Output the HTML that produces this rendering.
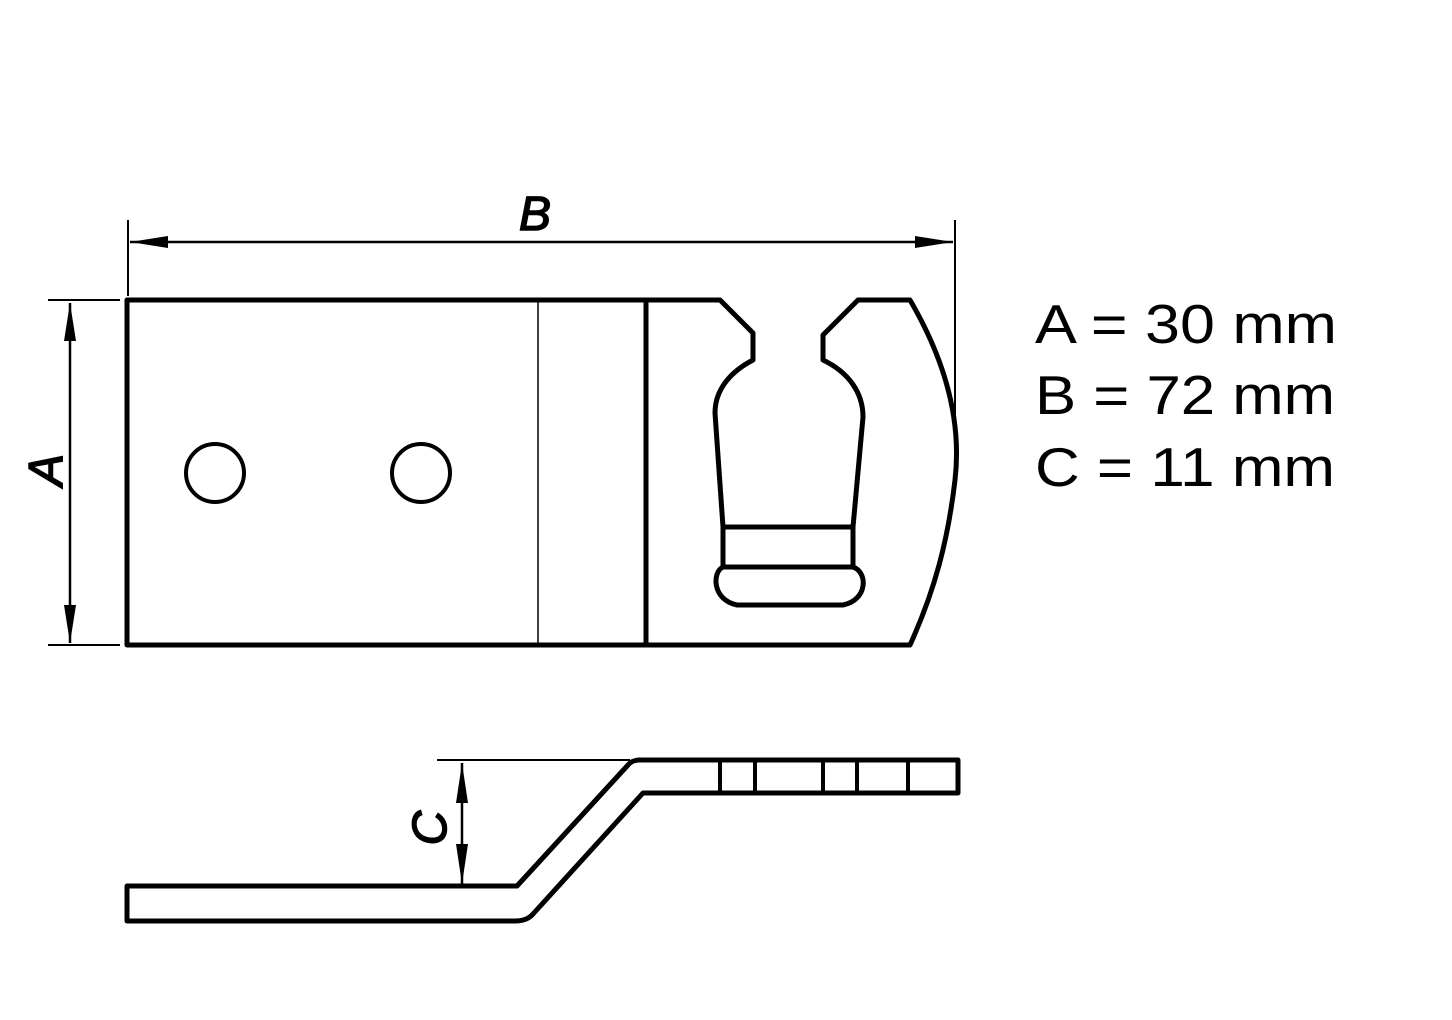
<!DOCTYPE html>
<html><head><style>body{margin:0;background:#fff}svg{display:block}</style></head>
<body>
<svg width="1452" height="1020" viewBox="0 0 1452 1020" xmlns="http://www.w3.org/2000/svg">
<g fill="none" stroke="#000" stroke-linejoin="round">
<path stroke-width="5" d="M127,300 L720,300 L753,333 L753,360 C730,372 715,390 715,413 L723,527 L723,567 C712,572 712,600 737,605 L843,605 C868,600 868,572 853,567 L853,527 L863,417 C863,392 848,372 823,360 L823,335 L858,300 L910,300 C945,360 962,420 955,480 C948,540 935,590 910,645 L127,645 Z"/>
<line x1="723" y1="527" x2="853" y2="527" stroke-width="5"/>
<line x1="723" y1="567" x2="853" y2="567" stroke-width="5"/>
<line x1="646" y1="300" x2="646" y2="645" stroke-width="5"/>
<line x1="538" y1="300" x2="538" y2="645" stroke-width="1.5"/>
<circle cx="215" cy="473" r="29" stroke-width="4"/>
<circle cx="421" cy="473" r="29" stroke-width="4"/>
<line x1="128" y1="220" x2="128" y2="296" stroke-width="2"/>
<line x1="955" y1="220" x2="955" y2="420" stroke-width="2"/>
<line x1="130" y1="242" x2="953" y2="242" stroke-width="2.5"/>
<line x1="48" y1="300" x2="120" y2="300" stroke-width="2"/>
<line x1="48" y1="645" x2="120" y2="645" stroke-width="2"/>
<line x1="70" y1="303" x2="70" y2="643" stroke-width="2.5"/>
<path stroke-width="5" d="M127,886 L517,886 L628,765 Q632,760 640,760 L958,760 L958,793 L643,793 L533,914 Q527,921 515,921 L127,921 Z"/>
<line x1="437" y1="760" x2="630" y2="760" stroke-width="2"/>
<g stroke-width="4">
<line x1="720" y1="760" x2="720" y2="793"/><line x1="755" y1="760" x2="755" y2="793"/>
<line x1="823" y1="760" x2="823" y2="793"/><line x1="857" y1="760" x2="857" y2="793"/>
<line x1="908" y1="760" x2="908" y2="793"/>
</g>
<line x1="462" y1="763" x2="462" y2="884" stroke-width="2.5"/>
</g>
<g fill="#000">
<polygon points="130,242 168,236 168,248"/>
<polygon points="953,242 915,236 915,248"/>
<polygon points="70,303 64,341 76,341"/>
<polygon points="70,643 64,605 76,605"/>
<polygon points="462,763 456,803 468,803"/>
<polygon points="462,884 456,844 468,844"/>
</g>
<g font-family="Liberation Sans, sans-serif">
<g stroke="#000" stroke-width="1.5">
<text x="535" y="230" font-size="48" font-style="italic" text-anchor="middle">B</text>
<text transform="translate(62,470) rotate(-90)" font-size="48" font-style="italic" text-anchor="middle">A</text>
<text transform="translate(446,828) rotate(-90)" font-size="48" font-style="italic" text-anchor="middle">C</text>
</g>
<text x="1035" y="343" font-size="55" textLength="302" lengthAdjust="spacingAndGlyphs">A = 30 mm</text>
<text x="1035" y="414" font-size="55" textLength="300" lengthAdjust="spacingAndGlyphs">B = 72 mm</text>
<text x="1035" y="486" font-size="55" textLength="300" lengthAdjust="spacingAndGlyphs">C = 11 mm</text>
</g>
</svg>
</body></html>
